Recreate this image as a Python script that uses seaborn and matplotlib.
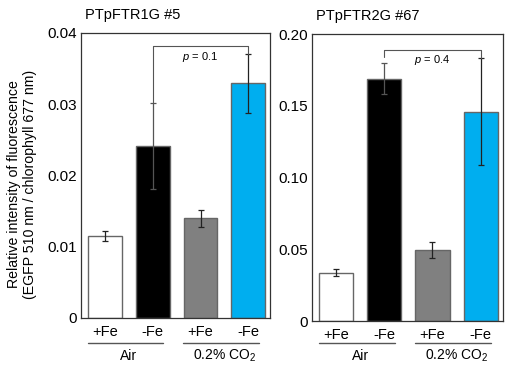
import numpy as np
import pandas as pd
import seaborn as sb
import matplotlib.pyplot as plt
import matplotlib.transforms as mtransforms

# data
conds = ['Air +Fe', 'Air -Fe', 'CO2 +Fe', 'CO2 -Fe']
fe_labels = ['+Fe', '-Fe', '+Fe', '-Fe']
groups = ['Air', '0.2% CO$_2$']
colors = ['#ffffff', '#000000', '#808080', '#00aeef']

ftr1_mean = [0.0115, 0.0241, 0.0140, 0.0329]
ftr1_err = [0.0007, 0.0060, 0.0012, 0.0042]
ftr2_mean = [0.0337, 0.1690, 0.0495, 0.1460]
ftr2_err = [0.0025, 0.0110, 0.0058, 0.0375]

titles = ['PTpFTR1G #5', 'PTpFTR2G #67']
yticks_1 = [0, 0.01, 0.02, 0.03, 0.04]
yticks_1_lbl = ['0', '0.01', '0.02', '0.03', '0.04']
yticks_2 = [0, 0.05, 0.10, 0.15, 0.20]
yticks_2_lbl = ['0', '0.05', '0.10', '0.15', '0.20']
pvals = ['0.1', '0.4']
bracket_y = [0.0381, 0.189]
bracket_drop_left = [0.0302, 0.184]


def panel(ax, mean, err, title, yt, ytl, pval, by, bdrop):
    df = pd.DataFrame({'cond': conds, 'val': mean})
    sb.barplot(data=df, x='cond', y='val', hue='cond', palette=colors,
               order=conds, legend=False, width=0.71, errorbar=None,
               edgecolor='#666666', linewidth=1.0, saturation=1, ax=ax)
    x = np.arange(len(conds))
    for i in range(len(conds)):
        ax.errorbar(x[i], mean[i], yerr=err[i], fmt='none',
                    ecolor='#222222' if i != 1 else '#555555',
                    elinewidth=0.9, capsize=2.2, capthick=0.9, zorder=5)

    ax.set_xlim(-0.5, 3.46)
    ax.set_ylim(yt[0], yt[-1])
    ax.set_yticks(yt)
    ax.set_yticklabels(ytl)
    ax.set_yticks([(a + b) / 2 for a, b in zip(yt[:-1], yt[1:])], minor=True)
    ax.tick_params(axis='y', which='both', direction='in', length=2.5,
                   width=0.8, labelsize=11, pad=3)
    ax.set_xticks(x)
    ax.set_xticklabels(fe_labels)
    ax.tick_params(axis='x', length=0, labelsize=10.5, pad=5)
    ax.set_xlabel('')
    ax.set_ylabel('')
    for s in ax.spines.values():
        s.set_visible(True)
        s.set_color('#333333')
        s.set_linewidth(0.9)
    ax.set_title(title, loc='left', x=0.02, fontsize=10.5, pad=10)

    # group underline + label (fixed rows in figure coords)
    fig = ax.figure
    trans = mtransforms.blended_transform_factory(ax.transData, fig.transFigure)
    for g, (a, b) in enumerate([(0, 1), (2, 3)]):
        ax.plot([x[a] - 0.36, x[b] + 0.22], [1 - 343 / 365] * 2,
                color='#555555', lw=1.0, transform=trans, clip_on=False)
        ax.text((x[a] + x[b]) / 2, 1 - 356 / 365, groups[g], ha='center',
                va='center', fontsize=10, transform=trans)

    # significance bracket
    ax.plot([x[1], x[1], x[3], x[3]],
            [bdrop, by, by, mean[3] + err[3]],
            color='#555555', lw=0.8, zorder=6)
    span = yt[-1] - yt[0]
    ax.text((x[1] + x[3]) / 2, by - span * 0.012, r'$p$ = ' + pval,
            ha='center', va='top', fontsize=8)


sb.set_style('white')
plt.rcParams['font.family'] = ['Liberation Sans', 'DejaVu Sans']
plt.rcParams['mathtext.fontset'] = 'custom'
plt.rcParams['mathtext.rm'] = 'Liberation Sans'
plt.rcParams['mathtext.it'] = 'Liberation Sans:italic'
for k in ['text.color', 'axes.labelcolor', 'xtick.color', 'ytick.color']:
    plt.rcParams[k] = 'black'

fig = plt.figure(figsize=(5.07, 3.65), dpi=100)
fig.patch.set_facecolor('white')
ax1 = fig.add_axes([0.160, 0.129, 0.373, 0.781])
ax2 = fig.add_axes([0.615, 0.1205, 0.377, 0.786])

panel(ax1, ftr1_mean, ftr1_err, titles[0], yticks_1, yticks_1_lbl,
      pvals[0], bracket_y[0], bracket_drop_left[0])
panel(ax2, ftr2_mean, ftr2_err, titles[1], yticks_2, yticks_2_lbl,
      pvals[1], bracket_y[1], bracket_drop_left[1])

fig.text(22 / 507, 1 - 184 / 365,
         'Relative intensity of fluorescence\n(EGFP 510 nm / chlorophyll 677 nm)',
         rotation=90, ha='center', va='center', fontsize=10.2, linespacing=1.15)

plt.savefig('out.png', dpi=100)
